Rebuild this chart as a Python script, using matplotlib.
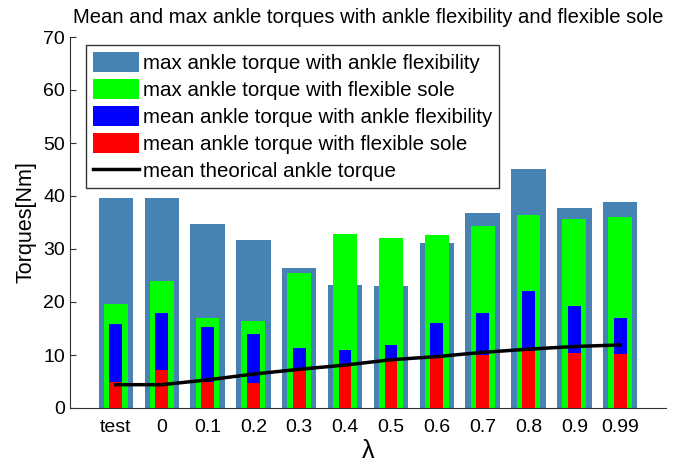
import matplotlib
matplotlib.use("Agg")
import matplotlib.pyplot as plt
import numpy as np

plt.rcParams['font.family'] = ['Liberation Sans', 'DejaVu Sans']

categories = ['test', '0', '0.1', '0.2', '0.3', '0.4', '0.5', '0.6', '0.7', '0.8', '0.9', '0.99']
max_ankle_flex = [39.6, 39.6, 34.8, 31.7, 26.4, 23.3, 23.1, 31.2, 36.7, 45.1, 37.8, 38.9]
max_flex_sole = [19.7, 24.0, 16.9, 16.5, 25.5, 32.9, 32.0, 32.7, 34.4, 36.4, 35.7, 36.1]
mean_ankle_flex = [15.9, 18.0, 15.3, 14.0, 11.4, 11.0, 11.8, 16.1, 18.0, 22.0, 19.2, 16.9]
mean_flex_sole = [5.0, 7.1, 5.0, 4.8, 7.2, 8.0, 8.8, 9.5, 10.0, 10.8, 10.4, 10.1]
mean_theoretical = [4.4, 4.4, 5.3, 6.4, 7.3, 8.1, 9.1, 9.7, 10.5, 11.1, 11.6, 11.9]

x = np.arange(1, len(categories) + 1)

fig = plt.figure(figsize=(6.91, 4.62), dpi=100)
ax = fig.add_axes([70/691, 1 - 408/462, (666-70)/691, (408-37)/462])

h1 = ax.bar(x, max_ankle_flex, width=0.75, color='#4682B4', label='max ankle torque with ankle flexibility', zorder=1)
h2 = ax.bar(x, max_flex_sole, width=0.52, color='#00FF00', label='max ankle torque with flexible sole', zorder=2)
h3 = ax.bar(x, mean_ankle_flex, width=0.28, color='#0000FF', label='mean ankle torque with ankle flexibility', zorder=3)
h4 = ax.bar(x, mean_flex_sole, width=0.28, color='#FF0000', label='mean ankle torque with flexible sole', zorder=4)
h5, = ax.plot(x, mean_theoretical, color='black', linewidth=2.5, label='mean theorical ankle torque', zorder=5)

ax.set_xlim(0, 13)
ax.set_ylim(0, 70)
ax.set_yticks(np.arange(0, 71, 10))
ax.set_xticks(x)
ax.set_xticklabels(categories)
ax.spines['top'].set_visible(False)
ax.spines['right'].set_visible(False)
ax.spines['left'].set_color('#333333')
ax.spines['bottom'].set_color('#333333')
ax.tick_params(axis='y', direction='in', length=4, labelsize=14, color='#333333')
ax.tick_params(axis='x', length=0, labelsize=14, pad=8)

ax.set_title('Mean and max ankle torques with ankle flexibility and flexible sole', fontsize=14.6, pad=10)
ax.set_ylabel('Torques[Nm]', fontsize=15.5, labelpad=5)
ax.set_xlabel('λ', fontsize=18, labelpad=2)

leg = ax.legend(handles=[h1, h2, h3, h4, h5], loc='upper left', bbox_to_anchor=(0.027, 0.978),
                borderaxespad=0, fontsize=14.8, frameon=True,
                fancybox=False, edgecolor='black', handlelength=2.2, handleheight=1.1,
                labelspacing=0.3, borderpad=0.35, handletextpad=0.2)
leg.get_frame().set_linewidth(1.0)
leg.set_zorder(10)

fig.savefig('out.png', dpi=100)
